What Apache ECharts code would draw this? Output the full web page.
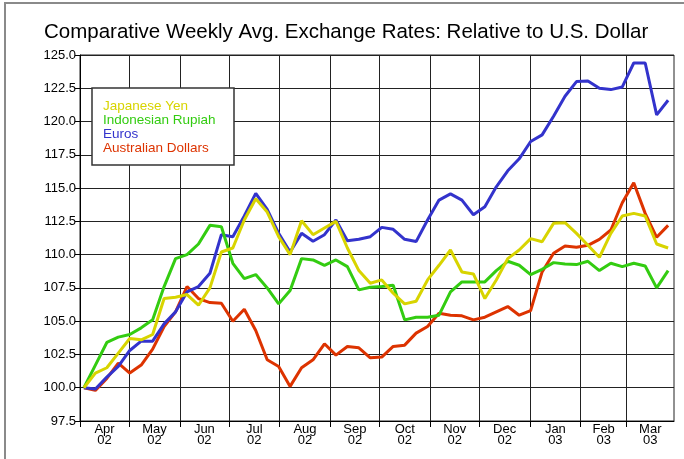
<!DOCTYPE html>
<html>
<head>
<meta charset="utf-8">
<script src="https://cdn.jsdelivr.net/npm/echarts@6/dist/echarts.min.js"></script>
<style>
  html, body { margin: 0; padding: 0; background: #fff; }
  #rateChart { width: 684px; height: 459px; }
</style>
</head>
<body>
<div id="rateChart"></div>
<script>
// x is counted in days from 1 Apr 2002, one sample per week
const firstSampleDay = 2.4;

// month boundaries (days from 1 Apr 2002) and the labels centred in each month
const monthStarts = [0, 30, 61, 91, 122, 153, 183, 214, 244, 275, 306, 334];
const labelDays = [15, 45.5, 76, 106.5, 137.5, 168, 198.5, 229, 259.5, 290.5, 320, 348.5];
const monthLabels = ["Apr\n02", "May\n02", "Jun\n02", "Jul\n02", "Aug\n02", "Sep\n02",
  "Oct\n02", "Nov\n02", "Dec\n02", "Jan\n03", "Feb\n03", "Mar\n03"];

const seriesNames = ["Japanese Yen", "Indonesian Rupiah", "Euros", "Australian Dollars"];

const yenValues = [100.0, 101.1, 101.5, 102.6, 103.7, 103.6, 104.0, 106.7, 106.8, 107.0,
  106.2, 107.5, 110.2, 110.5, 112.6, 114.2, 113.2, 111.35, 110.0, 112.55,
  111.5, 112.0, 112.5, 110.5, 108.8, 107.85, 108.1, 107.1, 106.3, 106.5,
  108.1, 109.2, 110.35, 108.7, 108.55, 106.7, 108.1, 109.7, 110.35, 111.2,
  110.97, 112.35, 112.4, 111.6, 110.7, 109.8, 111.6, 112.9, 113.1, 112.9,
  110.8, 110.5];
const rupiahValues = [100.0, 101.7, 103.4, 103.8, 104.0, 104.5, 105.1, 107.6, 109.7, 110.0,
  110.8, 112.2, 112.1, 109.35, 108.2, 108.5, 107.5, 106.3, 107.3, 109.7,
  109.6, 109.2, 109.6, 109.1, 107.35, 107.55, 107.6, 107.7, 105.1, 105.3,
  105.3, 105.45, 107.2, 107.95, 107.95, 107.95, 108.8, 109.5, 109.2, 108.5,
  108.9, 109.4, 109.3, 109.25, 109.5, 108.8, 109.35, 109.1, 109.35, 109.15,
  107.5, 108.8];
const euroValues = [100.0, 99.9, 100.8, 101.6, 102.8, 103.5, 103.5, 104.8, 105.7, 107.2,
  107.6, 108.6, 111.5, 111.35, 112.9, 114.6, 113.4, 111.6, 110.2, 111.6,
  111.0, 111.5, 112.6, 111.05, 111.15, 111.35, 112.05, 111.9, 111.15, 110.98,
  112.6, 114.1, 114.56, 114.1, 113.0, 113.6, 115.1, 116.3, 117.2, 118.5,
  119.0, 120.4, 121.9, 123.0, 123.05, 122.5, 122.4, 122.6, 124.4, 124.4,
  120.5, 121.6];
const audValues = [100.0, 99.8, 100.7, 101.85, 101.1, 101.7, 102.9, 104.6, 105.7, 107.6,
  106.7, 106.4, 106.35, 105.0, 105.9, 104.3, 102.1, 101.6, 100.1, 101.5,
  102.1, 103.3, 102.45, 103.1, 103.0, 102.25, 102.3, 103.1, 103.2, 104.1,
  104.6, 105.6, 105.45, 105.4, 105.1, 105.3, 105.7, 106.1, 105.45, 105.8,
  108.7, 110.1, 110.65, 110.55, 110.7, 111.15, 111.85, 113.9, 115.4, 113.1,
  111.3, 112.2];

const colors = {
  "Japanese Yen": "#d8d400",
  "Indonesian Rupiah": "#33cc11",
  "Euros": "#3333cc",
  "Australian Dollars": "#dd3300",
};

const fontName = "Liberation Sans, Arial, sans-serif";

function toPoints(values) {
  return values.map((v, i) => [firstSampleDay + 7 * i, v]);
}

function makeLine(name, values) {
  return {
    name: name,
    type: "line",
    data: toPoints(values),
    showSymbol: false,
    symbol: "none",
    smooth: false,
    lineStyle: { width: 3, color: colors[name] },
    itemStyle: { color: colors[name] },
  };
}

let myChart = echarts.init(document.getElementById("rateChart"));
let options = {
  animation: false,
  backgroundColor: "#fff",
  title: {
    text: "Comparative Weekly Avg. Exchange Rates: Relative to U.S. Dollar",
    left: 44,
    top: 22,
    padding: 0,
    textStyle: {
      fontFamily: fontName,
      fontSize: 20.5,
      fontWeight: "normal",
      color: "#000",
    },
  },
  graphic: [
    {
      type: "rect",
      shape: { x: 5, y: 3, width: 800, height: 600 },
      style: { fill: "none", stroke: "#8a8a8a", lineWidth: 2 },
      z: 1,
    },
    {
      type: "rect",
      shape: { x: 92, y: 88, width: 142, height: 77 },
      style: { fill: "#fff", stroke: "#333", lineWidth: 1.5 },
      z: 5,
    },
  ],
  legend: {
    orient: "vertical",
    left: 98,
    top: 99,
    padding: 0,
    itemGap: 0,
    itemWidth: 0,
    itemHeight: 0,
    icon: "none",
    selectedMode: false,
    z: 10,
    textStyle: { fontFamily: fontName, fontSize: 13.5, lineHeight: 14 },
    data: seriesNames.map((n) => ({ name: n, textStyle: { color: colors[n] } })),
  },
  grid: {
    left: 80,
    right: 10,
    top: 55,
    bottom: 38,
    show: true,
    borderColor: "#222",
    borderWidth: 1,
  },
  xAxis: {
    type: "value",
    min: 0,
    max: 363,
    axisLine: { show: true, lineStyle: { color: "#000", width: 1 } },
    axisTick: {
      show: true,
      customValues: monthStarts,
      length: 6,
      lineStyle: { color: "#000" },
    },
    axisLabel: {
      customValues: labelDays,
      margin: 3,
      fontFamily: fontName,
      fontSize: 13,
      lineHeight: 11,
      color: "#000",
      formatter: (v) => {
        let i = labelDays.indexOf(v);
        return i >= 0 ? monthLabels[i] : "";
      },
    },
    splitLine: { show: true, lineStyle: { color: "#222", width: 1 } },
  },
  yAxis: {
    type: "value",
    min: 97.5,
    max: 125,
    interval: 2.5,
    axisLine: { show: true, lineStyle: { color: "#000", width: 1 } },
    axisTick: { show: true, length: 5, lineStyle: { color: "#000" } },
    axisLabel: {
      margin: 4,
      fontFamily: fontName,
      fontSize: 13,
      color: "#000",
      formatter: (v) => v.toFixed(1),
    },
    splitLine: { show: true, lineStyle: { color: "#222", width: 1 } },
  },
  // drawn bottom to top: yen ends up on top like in the original
  series: [
    makeLine("Australian Dollars", audValues),
    makeLine("Euros", euroValues),
    makeLine("Indonesian Rupiah", rupiahValues),
    makeLine("Japanese Yen", yenValues),
  ],
};
myChart.setOption(options);
</script>
</body>
</html>
